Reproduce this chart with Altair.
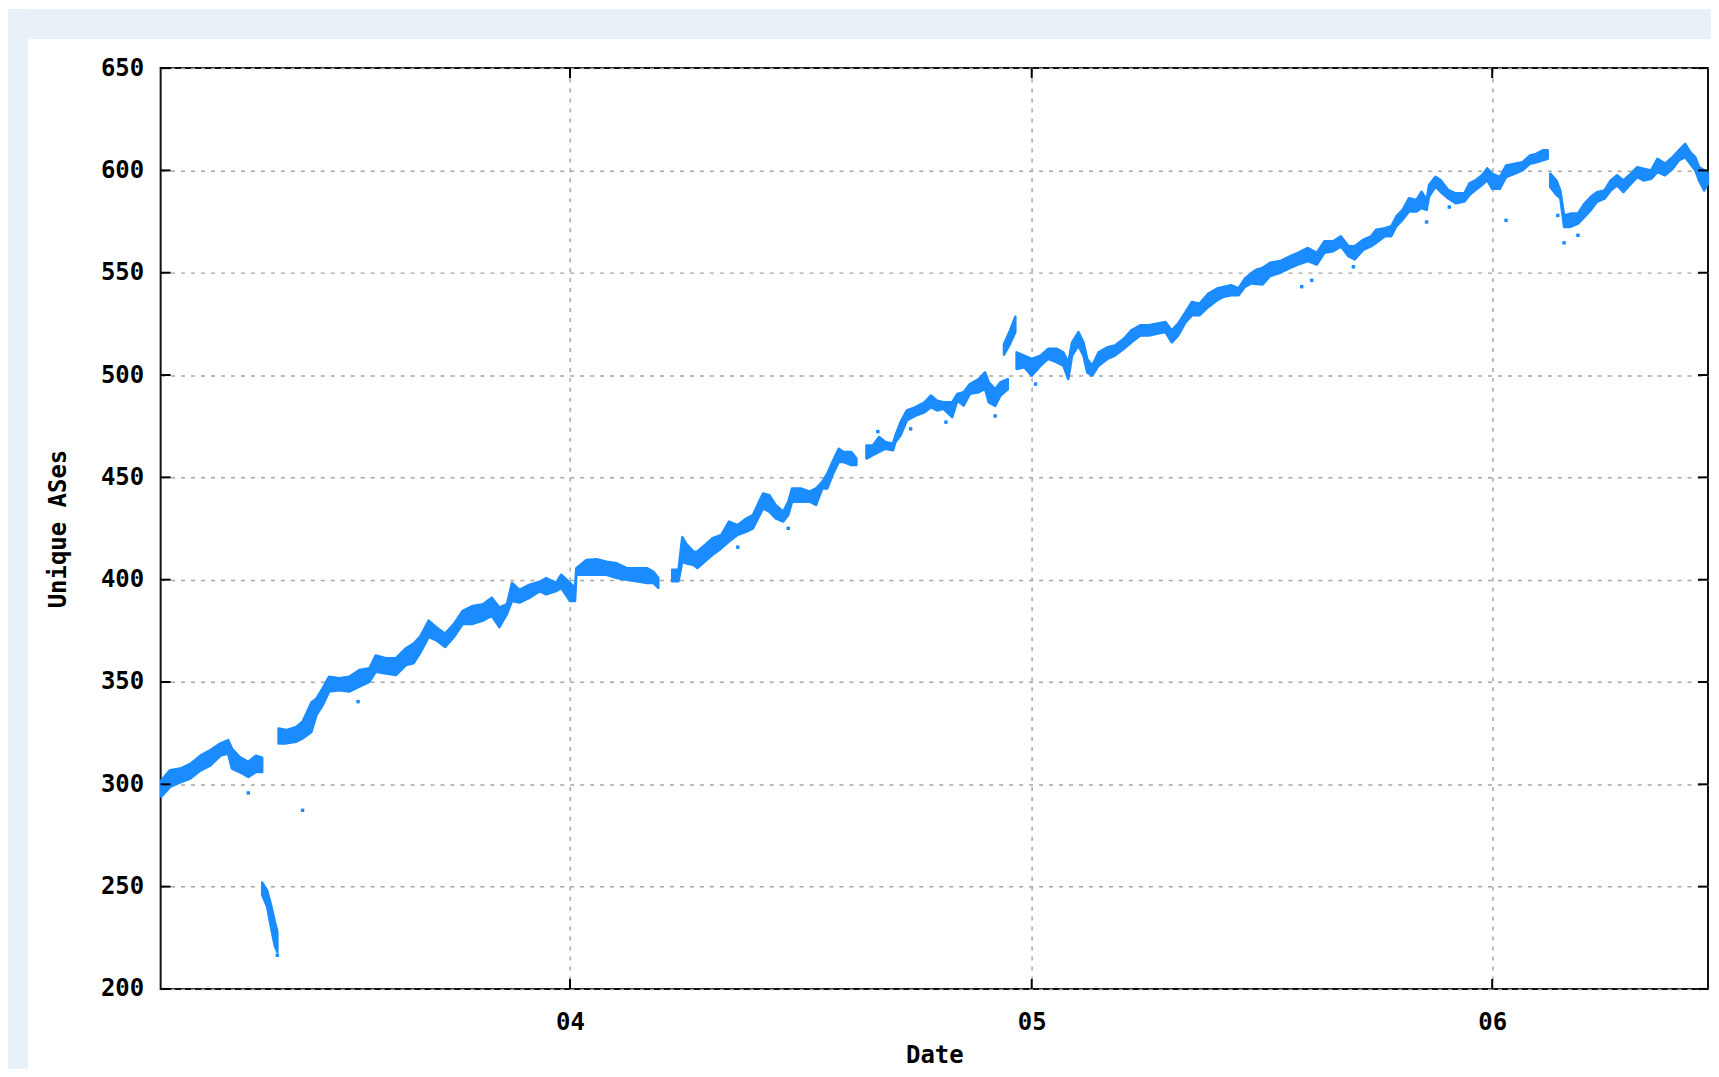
import altair as alt
import pandas as pd

# ---- data -----------------------------------------------------------------
band_date = [
    # segment 1
    "2003-02-11", "2003-02-18", "2003-02-26", "2003-03-06", "2003-03-14", "2003-03-22",
    "2003-03-30", "2003-04-05", "2003-04-08", "2003-04-14", "2003-04-21", "2003-04-27", "2003-05-02",
    # segment 2 (drop)
    "2003-05-02", "2003-05-06", "2003-05-09", "2003-05-12", "2003-05-14",
    # segment 3
    "2003-05-15", "2003-05-21", "2003-05-29", "2003-06-03", "2003-06-10", "2003-06-14", "2003-06-19",
    "2003-06-24", "2003-07-02", "2003-07-10", "2003-07-18", "2003-07-26", "2003-07-31", "2003-08-08",
    "2003-08-16", "2003-08-24", "2003-08-30", "2003-09-04", "2003-09-11", "2003-09-17", "2003-09-24",
    "2003-10-01", "2003-10-08", "2003-10-16", "2003-10-24", "2003-10-31", "2003-11-06", "2003-11-12",
    "2003-11-16", "2003-11-22", "2003-11-30", "2003-12-08", "2003-12-13", "2003-12-21", "2003-12-25",
    "2004-01-01", "2004-01-05", "2004-01-06", "2004-01-14", "2004-01-22", "2004-01-30", "2004-02-07",
    "2004-02-15", "2004-02-23", "2004-03-02", "2004-03-07", "2004-03-11",
    # segment 4
    "2004-03-22", "2004-03-27", "2004-03-30", "2004-04-02", "2004-04-08", "2004-04-11", "2004-04-17",
    "2004-04-23", "2004-04-30", "2004-05-06", "2004-05-13", "2004-05-20", "2004-05-25", "2004-06-02",
    "2004-06-07", "2004-06-12", "2004-06-18", "2004-06-22", "2004-06-25", "2004-07-02", "2004-07-09",
    "2004-07-14", "2004-07-19", "2004-07-23", "2004-07-27", "2004-08-01", "2004-08-05", "2004-08-11",
    "2004-08-15",
    # segment 5
    "2004-08-23", "2004-08-28", "2004-09-02", "2004-09-07", "2004-09-13", "2004-09-15", "2004-09-19",
    "2004-09-24", "2004-10-01", "2004-10-08", "2004-10-13", "2004-10-18", "2004-10-23", "2004-10-30",
    "2004-11-03", "2004-11-08", "2004-11-13", "2004-11-20", "2004-11-25", "2004-11-28", "2004-12-03",
    "2004-12-07", "2004-12-13",
    # segment 6 (upper piece)
    "2004-12-10", "2004-12-15", "2004-12-19",
    # segment 7
    "2004-12-20", "2004-12-26", "2005-01-01", "2005-01-08", "2005-01-14", "2005-01-21", "2005-01-26",
    "2005-01-30", "2005-02-02", "2005-02-07", "2005-02-11", "2005-02-14", "2005-02-18", "2005-02-23",
    "2005-03-02", "2005-03-08", "2005-03-15", "2005-03-21", "2005-03-28", "2005-04-04", "2005-04-10",
    "2005-04-17", "2005-04-22", "2005-04-27", "2005-05-03", "2005-05-08", "2005-05-14", "2005-05-21",
    "2005-05-28", "2005-06-02", "2005-06-08", "2005-06-14", "2005-06-19", "2005-06-24", "2005-06-28",
    "2005-07-03", "2005-07-09", "2005-07-17", "2005-07-25", "2005-07-31", "2005-08-08", "2005-08-15",
    "2005-08-21", "2005-08-28", "2005-09-03", "2005-09-09", "2005-09-14", "2005-09-21", "2005-09-27",
    "2005-10-01", "2005-10-08", "2005-10-13", "2005-10-17", "2005-10-22", "2005-10-27", "2005-11-02",
    "2005-11-06", "2005-11-10", "2005-11-12", "2005-11-17", "2005-11-21", "2005-11-27", "2005-12-03",
    "2005-12-10", "2005-12-14", "2005-12-19", "2005-12-24", "2005-12-28", "2006-01-01", "2006-01-07",
    "2006-01-12", "2006-01-19", "2006-01-25", "2006-01-31", "2006-02-05", "2006-02-10", "2006-02-14",
    # segment 8
    "2006-02-16", "2006-02-21", "2006-02-24", "2006-02-27", "2006-03-04", "2006-03-10", "2006-03-15",
    "2006-03-20", "2006-03-25", "2006-03-31", "2006-04-05", "2006-04-10", "2006-04-15", "2006-04-21",
    "2006-04-26", "2006-05-01", "2006-05-07", "2006-05-12", "2006-05-18", "2006-05-24", "2006-05-29",
    "2006-06-03", "2006-06-07", "2006-06-11", "2006-06-14", "2006-06-18", "2006-06-21",
]

band_low = [
    294, 298.7, 301, 302.8, 306.7, 309.3, 314, 315, 307.7, 306, 303.6, 306, 306,
    246, 240, 230, 221, 218,
    320, 320, 320.8, 322.4, 325.6, 333.8, 338.7, 345.3, 346, 345.3, 347.7, 350.1, 355, 354.2,
    353.4, 358.3, 359.1, 364, 372, 370.4, 367.1, 372, 378.4, 378.4, 380, 382.4, 376.8, 383.2,
    389.6, 388.8, 391.2, 394.4, 392.8, 394.4, 396, 389.6, 389.6, 402.4, 402.4, 402.4, 402.4, 400.8,
    400, 399.2, 398.4, 398.4, 396,
    399.2, 399.2, 408.8, 408, 407.2, 405.7, 409, 412.2, 415.4, 418.6, 421.9, 423.5, 425.1, 434.8,
    433.2, 430, 428.4, 431.6, 438.1, 438.1, 438.1, 436.5, 444.6, 444.6, 451, 457.5, 457.5, 456,
    456,
    459.2, 460.8, 462.4, 464, 463.2, 467.3, 470.5, 477.8, 480.2, 481.8, 484.3, 482.7, 483.5, 479.4,
    487.5, 485.1, 490.8, 491.6, 493.2, 486.6, 484.9, 489.8, 493,
    510, 515.5, 521,
    503, 503.8, 499.7, 504.6, 507.9, 506.2, 504.6, 498, 509.5, 514.4, 509.5, 501.3, 499.7, 504.6,
    507.9, 509.5, 512.8, 516, 519.3, 519.3, 520.2, 521, 516, 519.3, 525.9, 529.2, 529.2, 533.3,
    536.6, 538.2, 539, 539, 543.1, 544.8, 544.5, 544.3, 548.4, 550, 552.4, 554, 555.7, 554,
    559.7, 560.5, 562.9, 558.1, 556.5, 561.3, 562.9, 564.6, 567.8, 567.8, 572.7, 575.9, 579.9, 579.9,
    581.6, 580.7, 587.2, 592.1, 589.6, 586.4, 584, 584.8, 588, 590.5, 592.9, 595.3, 591, 591,
    596.7, 598.4, 600, 603.3, 604, 604.9, 605.7,
    591.9, 588, 586.5, 572.4, 572.4, 574, 577.2, 580.5, 584.6, 586.2, 590.2, 592.7, 589.4, 593.5,
    596.7, 595.1, 595.9, 599.2, 597.6, 600.8, 604.9, 606.5, 603.3, 600, 595.1, 590.2, 593.5,
]

band_high = [
    302, 306.9, 307.7, 310, 314, 316.7, 320, 321.6, 317.5, 313.4, 311, 314, 313,
    252, 248, 241, 233, 228,
    327.3, 326.5, 328, 330.6, 340, 342, 347, 352.6, 351.8, 352.6, 355.9, 356.7, 363, 361.6,
    361.6, 366.5, 368.8, 372, 380, 376.8, 373.6, 378.4, 384.8, 387.2, 388, 391.2, 386.4, 388,
    398.4, 395, 397.6, 399, 400.8, 398.4, 402.4, 398.4, 396, 405.6, 409.6, 410, 408.8, 408,
    405.6, 405.6, 405.6, 404, 400.8,
    404.8, 404.8, 420.8, 417.6, 413.6, 413.8, 417, 420.3, 421.9, 428.4, 426.7, 430, 431.6, 442.1,
    441.3, 436.5, 433.2, 438.1, 444.6, 444.6, 443, 444.6, 447.8, 451.9, 457.5, 464, 462.4, 462.4,
    459.2,
    465.6, 465.6, 469.7, 467.3, 466.5, 470.5, 477, 482.7, 484.3, 486.7, 490, 487.5, 486.7, 486.7,
    490.8, 491.6, 495.6, 498, 501.3, 496.4, 493.1, 496.4, 498,
    515, 522, 528.5,
    511.1, 509.5, 507.9, 509.5, 512.8, 512.8, 511.1, 506.2, 516, 521, 516, 507.9, 504.6, 511.1,
    513.6, 514.4, 517.7, 521.8, 524.3, 524.3, 525.1, 525.9, 521.8, 525.1, 530.8, 535.7, 534.9, 539.8,
    542.3, 543.1, 543.9, 542.3, 547.2, 549.7, 551.5, 552.4, 554.9, 555.7, 558.1, 559.7, 562.1, 559.7,
    565.4, 565.4, 567.8, 563, 563, 566.2, 567.8, 571, 571.8, 572.7, 577.5, 580.7, 586.4, 585.6,
    589.6, 585.6, 592.9, 596.9, 595.3, 590.5, 588.8, 588.8, 593.7, 595.3, 597.7, 601, 598.4, 596.7,
    602.4, 603.3, 604, 607.3, 608.1, 609.8, 609.8,
    598.4, 595, 590.2, 578, 578.9, 578.9, 583.7, 587, 589.4, 590.2, 595.1, 597.6, 595.1, 598.4,
    601.6, 600.8, 600, 605.7, 603.3, 606.5, 609.8, 613, 608.9, 606.5, 601.6, 600, 598.4,
]

band_segment = ([1] * 13 + [2] * 5 + [3] * 47 + [4] * 29 + [5] * 23 + [6] * 3
                + [7] * 77 + [8] * 27)

outlier_date = ["2003-04-21", "2003-06-03", "2003-07-17", "2003-05-14", "2004-05-13", "2004-06-22",
                "2004-09-01", "2004-09-27", "2004-10-25", "2004-12-03", "2005-01-04", "2005-08-03",
                "2005-08-11", "2005-09-13", "2005-11-10", "2005-11-28", "2006-01-12", "2006-02-22",
                "2006-02-27", "2006-03-10"]
outlier_value = [295.8, 287.3, 340.4, 216.5, 415.9, 425.1, 472.4, 473.7, 477.0, 480.0, 495.6, 543.2,
                 546.3, 552.9, 574.8, 582.1, 575.6, 578.0, 564.6, 568.3]

y_tick_values = [200, 250, 300, 350, 400, 450, 500, 550, 600, 650]
x_tick_years = [2004, 2005, 2006]

# ---- styling ----------------------------------------------------------------
W, H = 1551, 923
FONT = "DejaVu Sans Mono"
BLUE = "#1a8cff"
STRIP = "#e8f0f8"
GRID = "#a6a6a6"

band_df = pd.DataFrame({"date": band_date, "low": band_low, "high": band_high,
                        "segment": band_segment})
out_df = pd.DataFrame({"date": outlier_date, "value": outlier_value})
ytick_df = pd.DataFrame({"v": y_tick_values})
xtick_df = pd.DataFrame({"d": [f"{y}-01-01" for y in x_tick_years]})
one = pd.DataFrame({"k": [0]})

x_scale = alt.Scale(type="utc", domain=[
    alt.DateTime(year=2003, month=2, date=10, hours=12, utc=True),
    alt.DateTime(year=2006, month=6, date=21, hours=2, utc=True)])
y_scale = alt.Scale(domain=[200, 650], nice=False, zero=False)

x_axis = alt.Axis(
    values=[alt.DateTime(year=y, month=1, date=1, utc=True) for y in x_tick_years],
    labelExpr="utcFormat(datum.value, '%y')",
    title="Date", grid=True, gridDash=[4, 6], gridColor=GRID, gridWidth=1.5,
    ticks=False, domain=False,
    labelFont=FONT, labelFontSize=24, labelFontWeight="bold", labelColor="#000",
    labelPadding=22,
    titleFont=FONT, titleFontSize=24, titleFontWeight="bold", titleColor="#000",
    titlePadding=9,
)
y_axis = alt.Axis(
    values=y_tick_values, title="Unique ASes", grid=True, gridDash=[4, 6],
    gridColor=GRID, gridWidth=1.5, ticks=False, domain=False,
    labelFont=FONT, labelFontSize=24, labelFontWeight="bold", labelColor="#000",
    labelPadding=17,
    titleFont=FONT, titleFontSize=24, titleFontWeight="bold", titleColor="#000",
    titlePadding=30,
)

top_strip = alt.Chart(one).mark_rect(color=STRIP).encode(
    x=alt.value(-153), x2=alt.value(W + 3), y=alt.value(-59), y2=alt.value(-29))
left_strip = alt.Chart(one).mark_rect(color=STRIP).encode(
    x=alt.value(-153), x2=alt.value(-133), y=alt.value(-59), y2=alt.value(H + 80))

band = alt.Chart(band_df).mark_area(
    color=BLUE, stroke=BLUE, strokeWidth=2.5, strokeJoin="round",
    interpolate="linear", opacity=1
).encode(
    x=alt.X("date:T", scale=x_scale, axis=x_axis),
    y=alt.Y("high:Q", scale=y_scale, axis=y_axis),
    y2="low:Q",
    detail="segment:N",
)

outliers = alt.Chart(out_df).mark_square(color=BLUE, size=12, opacity=1).encode(
    x=alt.X("date:T"), y=alt.Y("value:Q"))

ytick_l = alt.Chart(ytick_df).mark_rule(color="#000", strokeWidth=2).encode(
    y=alt.Y("v:Q"), x=alt.value(0), x2=alt.value(10))
ytick_r = alt.Chart(ytick_df).mark_rule(color="#000", strokeWidth=2).encode(
    y=alt.Y("v:Q"), x=alt.value(W - 10), x2=alt.value(W))
xtick_b = alt.Chart(xtick_df).mark_rule(color="#000", strokeWidth=2).encode(
    x=alt.X("d:T"), y=alt.value(H - 10), y2=alt.value(H))
xtick_t = alt.Chart(xtick_df).mark_rule(color="#000", strokeWidth=2).encode(
    x=alt.X("d:T"), y=alt.value(0), y2=alt.value(10))

chart = alt.layer(
    top_strip, left_strip, band, outliers, ytick_l, ytick_r, xtick_b, xtick_t
).properties(
    width=W, height=H,
    autosize=alt.AutoSizeParams(type="none"),
    padding={"left": 153, "top": 59, "right": 3, "bottom": 79},
    background="white",
).configure_view(
    stroke="#111", strokeWidth=2, fill="white"
)

chart.save("out.html", embed_options={"renderer": "svg", "actions": False})
